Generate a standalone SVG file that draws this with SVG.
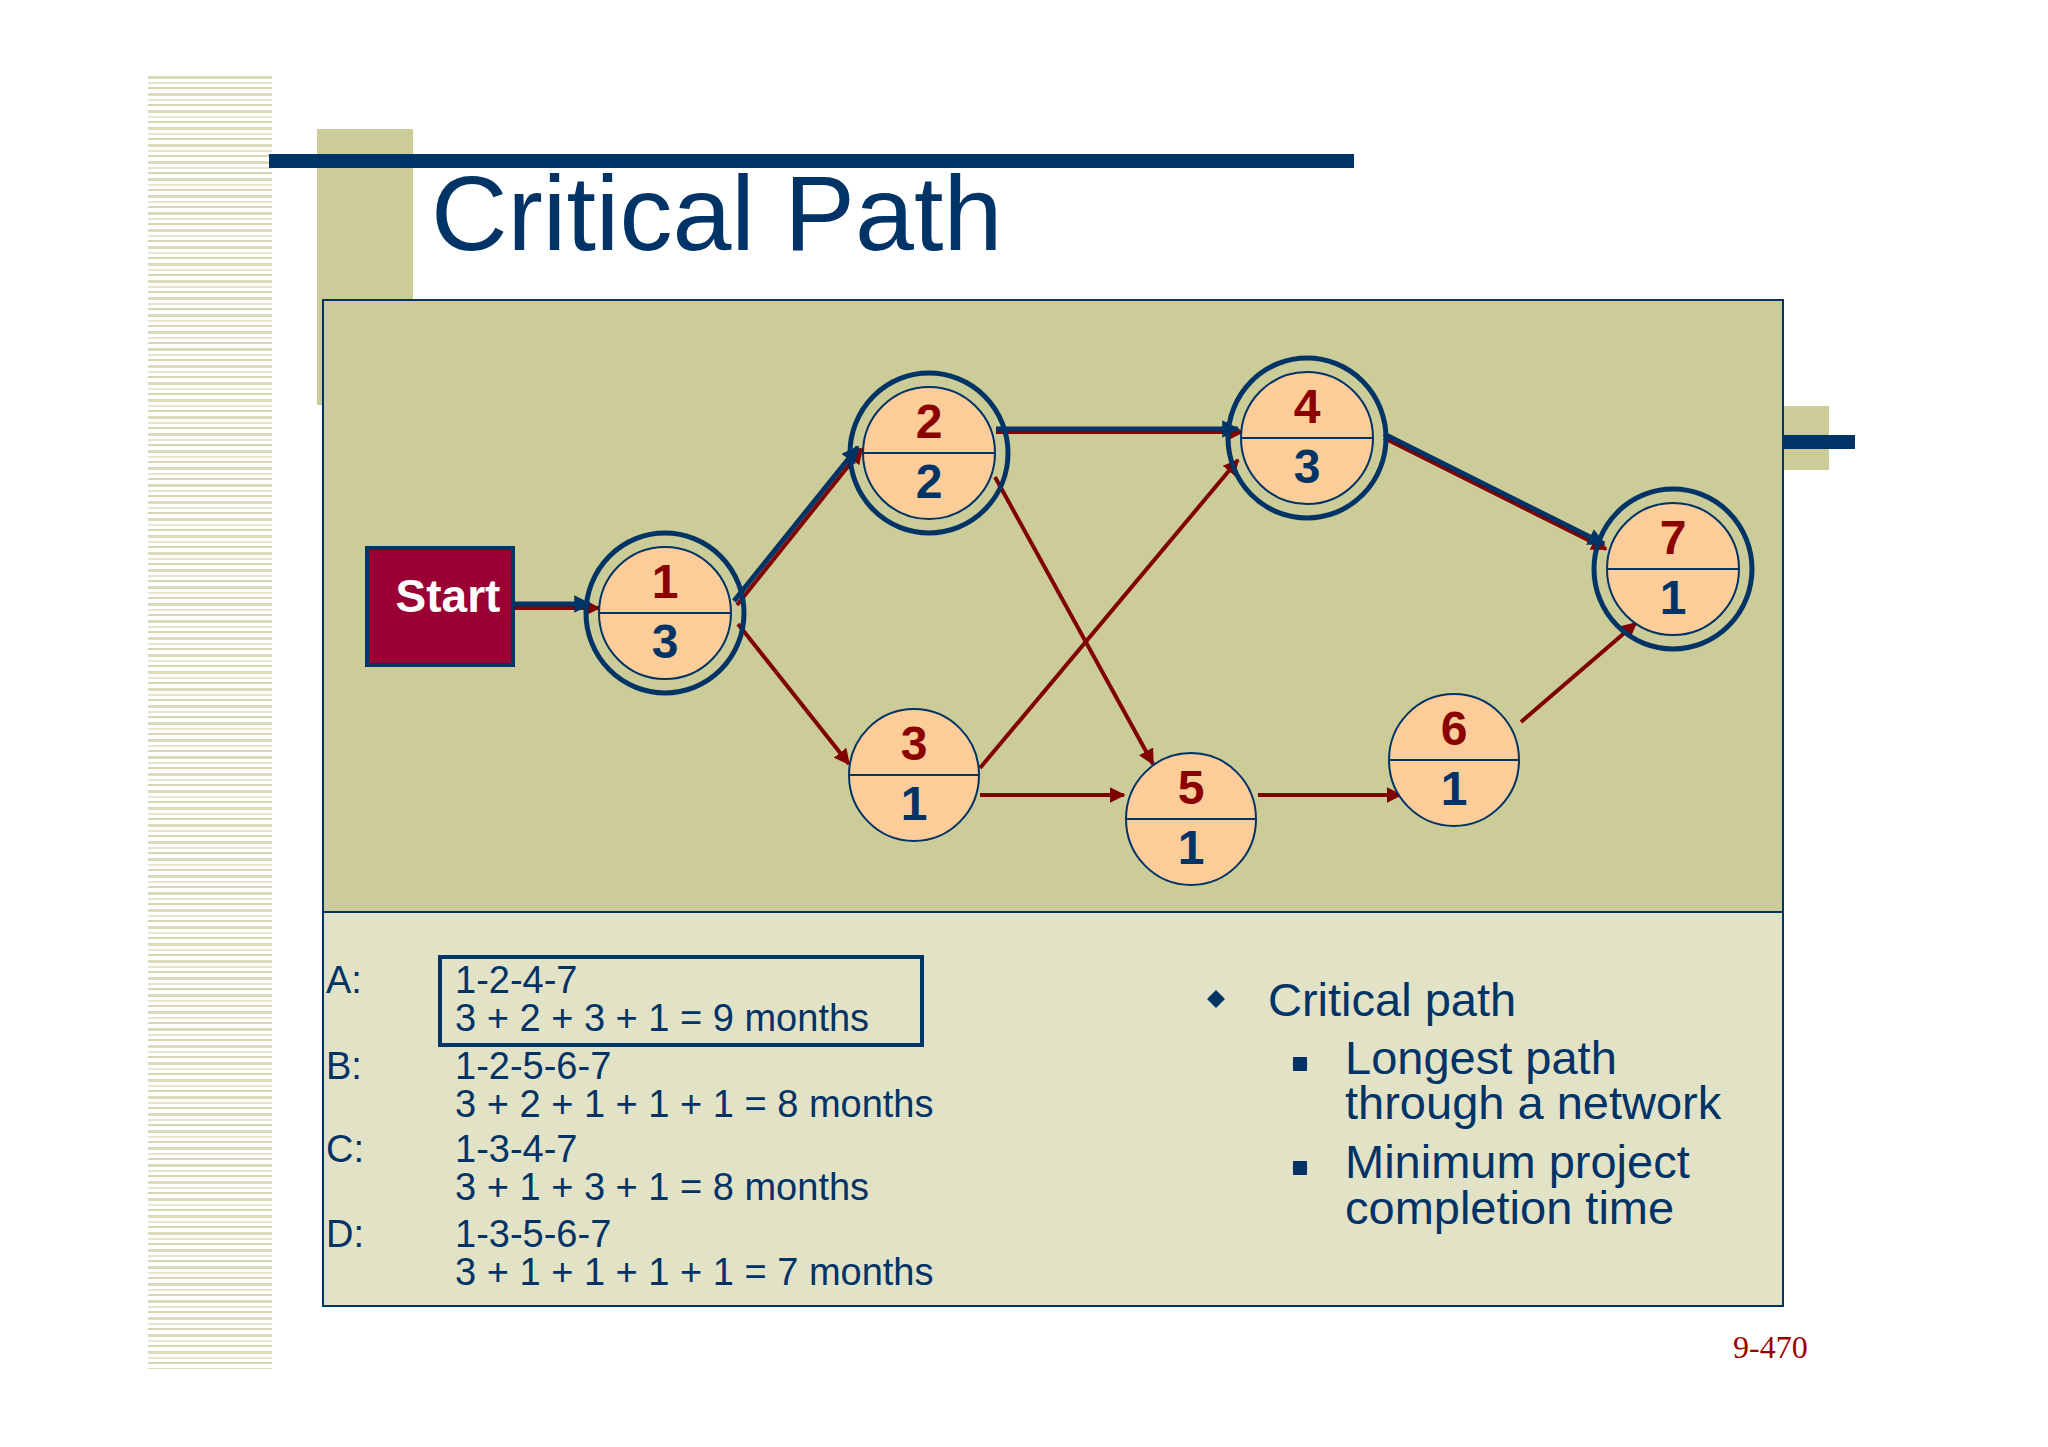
<svg xmlns="http://www.w3.org/2000/svg" width="2048" height="1447" viewBox="0 0 2048 1447">
<defs>
<pattern id="stripes" x="0" y="76" width="10" height="17" patternUnits="userSpaceOnUse">
<rect x="0" y="0" width="10" height="3" fill="#dcdcbc"/>
<rect x="0" y="6" width="10" height="2" fill="#e6e6d0"/>
<rect x="0" y="11" width="10" height="2" fill="#d6d6b2"/>
</pattern>
<marker id="ar" viewBox="0 0 10 10" refX="9" refY="5" markerWidth="4" markerHeight="4" orient="auto"><path d="M0,0 L10,5 L0,10 z" fill="#800000"/></marker>
<marker id="ab" viewBox="0 0 10 10" refX="9" refY="5" markerWidth="3.5" markerHeight="3.5" orient="auto"><path d="M0,0 L10,5 L0,10 z" fill="#003366"/></marker>
<style>
.red{stroke:#800000;stroke-width:4;fill:none;marker-end:url(#ar)}
.blue{stroke:#003366;stroke-width:5;fill:none;marker-end:url(#ab)}
.outer{fill:none;stroke:#003366;stroke-width:5}
.inner{fill:#fccc99;stroke:#003366;stroke-width:2}
.div{stroke:#003366;stroke-width:2}
.top{font-family:"Liberation Sans",Arial,sans-serif;font-weight:bold;font-size:48px;fill:#8b0000;text-anchor:middle}
.bot{font-family:"Liberation Sans",Arial,sans-serif;font-weight:bold;font-size:48px;fill:#003366;text-anchor:middle}
.t{font-family:"Liberation Sans",Arial,sans-serif;font-size:38px;fill:#003366}
.r{font-family:"Liberation Sans",Arial,sans-serif;font-size:47px;fill:#003366}
</style>
</defs>
<rect width="2048" height="1447" fill="#ffffff"/>
<rect x="148" y="76" width="124" height="1293" fill="url(#stripes)"/>
<rect x="317" y="129" width="96" height="276" fill="#cccc99"/>
<rect x="269" y="154" width="1085" height="14" fill="#003366"/>
<text x="431" y="250" font-family="Liberation Sans,Arial,sans-serif" font-size="106" fill="#003366">Critical Path</text>
<rect x="1783" y="406" width="46" height="64" fill="#cccc99"/>
<rect x="1783" y="435" width="72" height="14" fill="#003366"/>
<rect x="323" y="300" width="1460" height="612" fill="#cccc99" stroke="#003366" stroke-width="2"/>
<rect x="323" y="912" width="1460" height="394" fill="#e2e2c6" stroke="#003366" stroke-width="2"/>
<g id="connectors">
<line class="red" x1="513" y1="608" x2="599" y2="608"/>
<line class="blue" x1="513" y1="604" x2="590" y2="604"/>
<line class="red" x1="737" y1="605" x2="862" y2="449"/>
<line class="blue" x1="734" y1="601" x2="858" y2="447"/>
<line class="red" x1="738" y1="624" x2="849" y2="764"/>
<line class="red" x1="996" y1="432" x2="1243" y2="432"/>
<line class="blue" x1="996" y1="429" x2="1238" y2="429"/>
<line class="red" x1="995" y1="477" x2="1153" y2="764"/>
<line class="red" x1="980" y1="768" x2="1238" y2="460"/>
<line class="red" x1="980" y1="795" x2="1124" y2="795"/>
<line class="red" x1="1384" y1="438" x2="1606" y2="549"/>
<line class="blue" x1="1384" y1="434" x2="1604" y2="544"/>
<line class="red" x1="1258" y1="795" x2="1401" y2="795"/>
<line class="red" x1="1521" y1="722" x2="1636" y2="623"/>
</g>
<g id="start">
<rect x="367" y="548" width="146" height="117" fill="#990033" stroke="#003366" stroke-width="4"/>
<text x="448" y="612" font-family="Liberation Sans,Arial,sans-serif" font-weight="bold" font-size="46" fill="#ffffff" text-anchor="middle">Start</text>
</g>
<g id="n1"><ellipse class="outer" cx="665" cy="613" rx="79" ry="80"/><ellipse class="inner" cx="665" cy="613" rx="66" ry="66"/><line class="div" x1="600" y1="613" x2="730" y2="613"/><text class="top" x="665" y="598">1</text><text class="bot" x="665" y="658">3</text></g>
<g id="n2"><ellipse class="outer" cx="929" cy="453" rx="79" ry="80"/><ellipse class="inner" cx="929" cy="453" rx="66" ry="66"/><line class="div" x1="864" y1="453" x2="994" y2="453"/><text class="top" x="929" y="438">2</text><text class="bot" x="929" y="498">2</text></g>
<g id="n3"><ellipse class="inner" cx="914" cy="775" rx="65" ry="66"/><line class="div" x1="849" y1="775" x2="979" y2="775"/><text class="top" x="914" y="760">3</text><text class="bot" x="914" y="820">1</text></g>
<g id="n4"><ellipse class="outer" cx="1307" cy="438" rx="79" ry="80"/><ellipse class="inner" cx="1307" cy="438" rx="66" ry="66"/><line class="div" x1="1242" y1="438" x2="1372" y2="438"/><text class="top" x="1307" y="423">4</text><text class="bot" x="1307" y="483">3</text></g>
<g id="n5"><ellipse class="inner" cx="1191" cy="819" rx="65" ry="66"/><line class="div" x1="1126" y1="819" x2="1256" y2="819"/><text class="top" x="1191" y="804">5</text><text class="bot" x="1191" y="864">1</text></g>
<g id="n6"><ellipse class="inner" cx="1454" cy="760" rx="65" ry="66"/><line class="div" x1="1389" y1="760" x2="1519" y2="760"/><text class="top" x="1454" y="745">6</text><text class="bot" x="1454" y="805">1</text></g>
<g id="n7"><ellipse class="outer" cx="1673" cy="569" rx="79" ry="80"/><ellipse class="inner" cx="1673" cy="569" rx="66" ry="66"/><line class="div" x1="1608" y1="569" x2="1738" y2="569"/><text class="top" x="1673" y="554">7</text><text class="bot" x="1673" y="614">1</text></g>
<g id="paths">
<rect x="440" y="957" width="482" height="88" fill="none" stroke="#003366" stroke-width="4"/>
<text class="t" x="326" y="993">A:</text>
<text class="t" x="455" y="993">1-2-4-7</text>
<text class="t" x="455" y="1031">3 + 2 + 3 + 1 = 9 months</text>
<text class="t" x="326" y="1079">B:</text>
<text class="t" x="455" y="1079">1-2-5-6-7</text>
<text class="t" x="455" y="1117">3 + 2 + 1 + 1 + 1 = 8 months</text>
<text class="t" x="326" y="1162">C:</text>
<text class="t" x="455" y="1162">1-3-4-7</text>
<text class="t" x="455" y="1200">3 + 1 + 3 + 1 = 8 months</text>
<text class="t" x="326" y="1247">D:</text>
<text class="t" x="455" y="1247">1-3-5-6-7</text>
<text class="t" x="455" y="1285">3 + 1 + 1 + 1 + 1 = 7 months</text>
</g>
<g id="notes">
<path d="M1216,990 L1225,999 L1216,1008 L1207,999 z" fill="#003366"/>
<text class="r" x="1268" y="1016">Critical path</text>
<rect x="1293" y="1057" width="14" height="14" fill="#003366"/>
<text class="r" x="1345" y="1074">Longest path</text>
<text class="r" x="1345" y="1119">through a network</text>
<rect x="1293" y="1161" width="14" height="14" fill="#003366"/>
<text class="r" x="1345" y="1178">Minimum project</text>
<text class="r" x="1345" y="1224">completion time</text>
</g>
<text x="1733" y="1358" font-family="Liberation Serif,Times New Roman,serif" font-size="32" fill="#990000">9-470</text>
</svg>
